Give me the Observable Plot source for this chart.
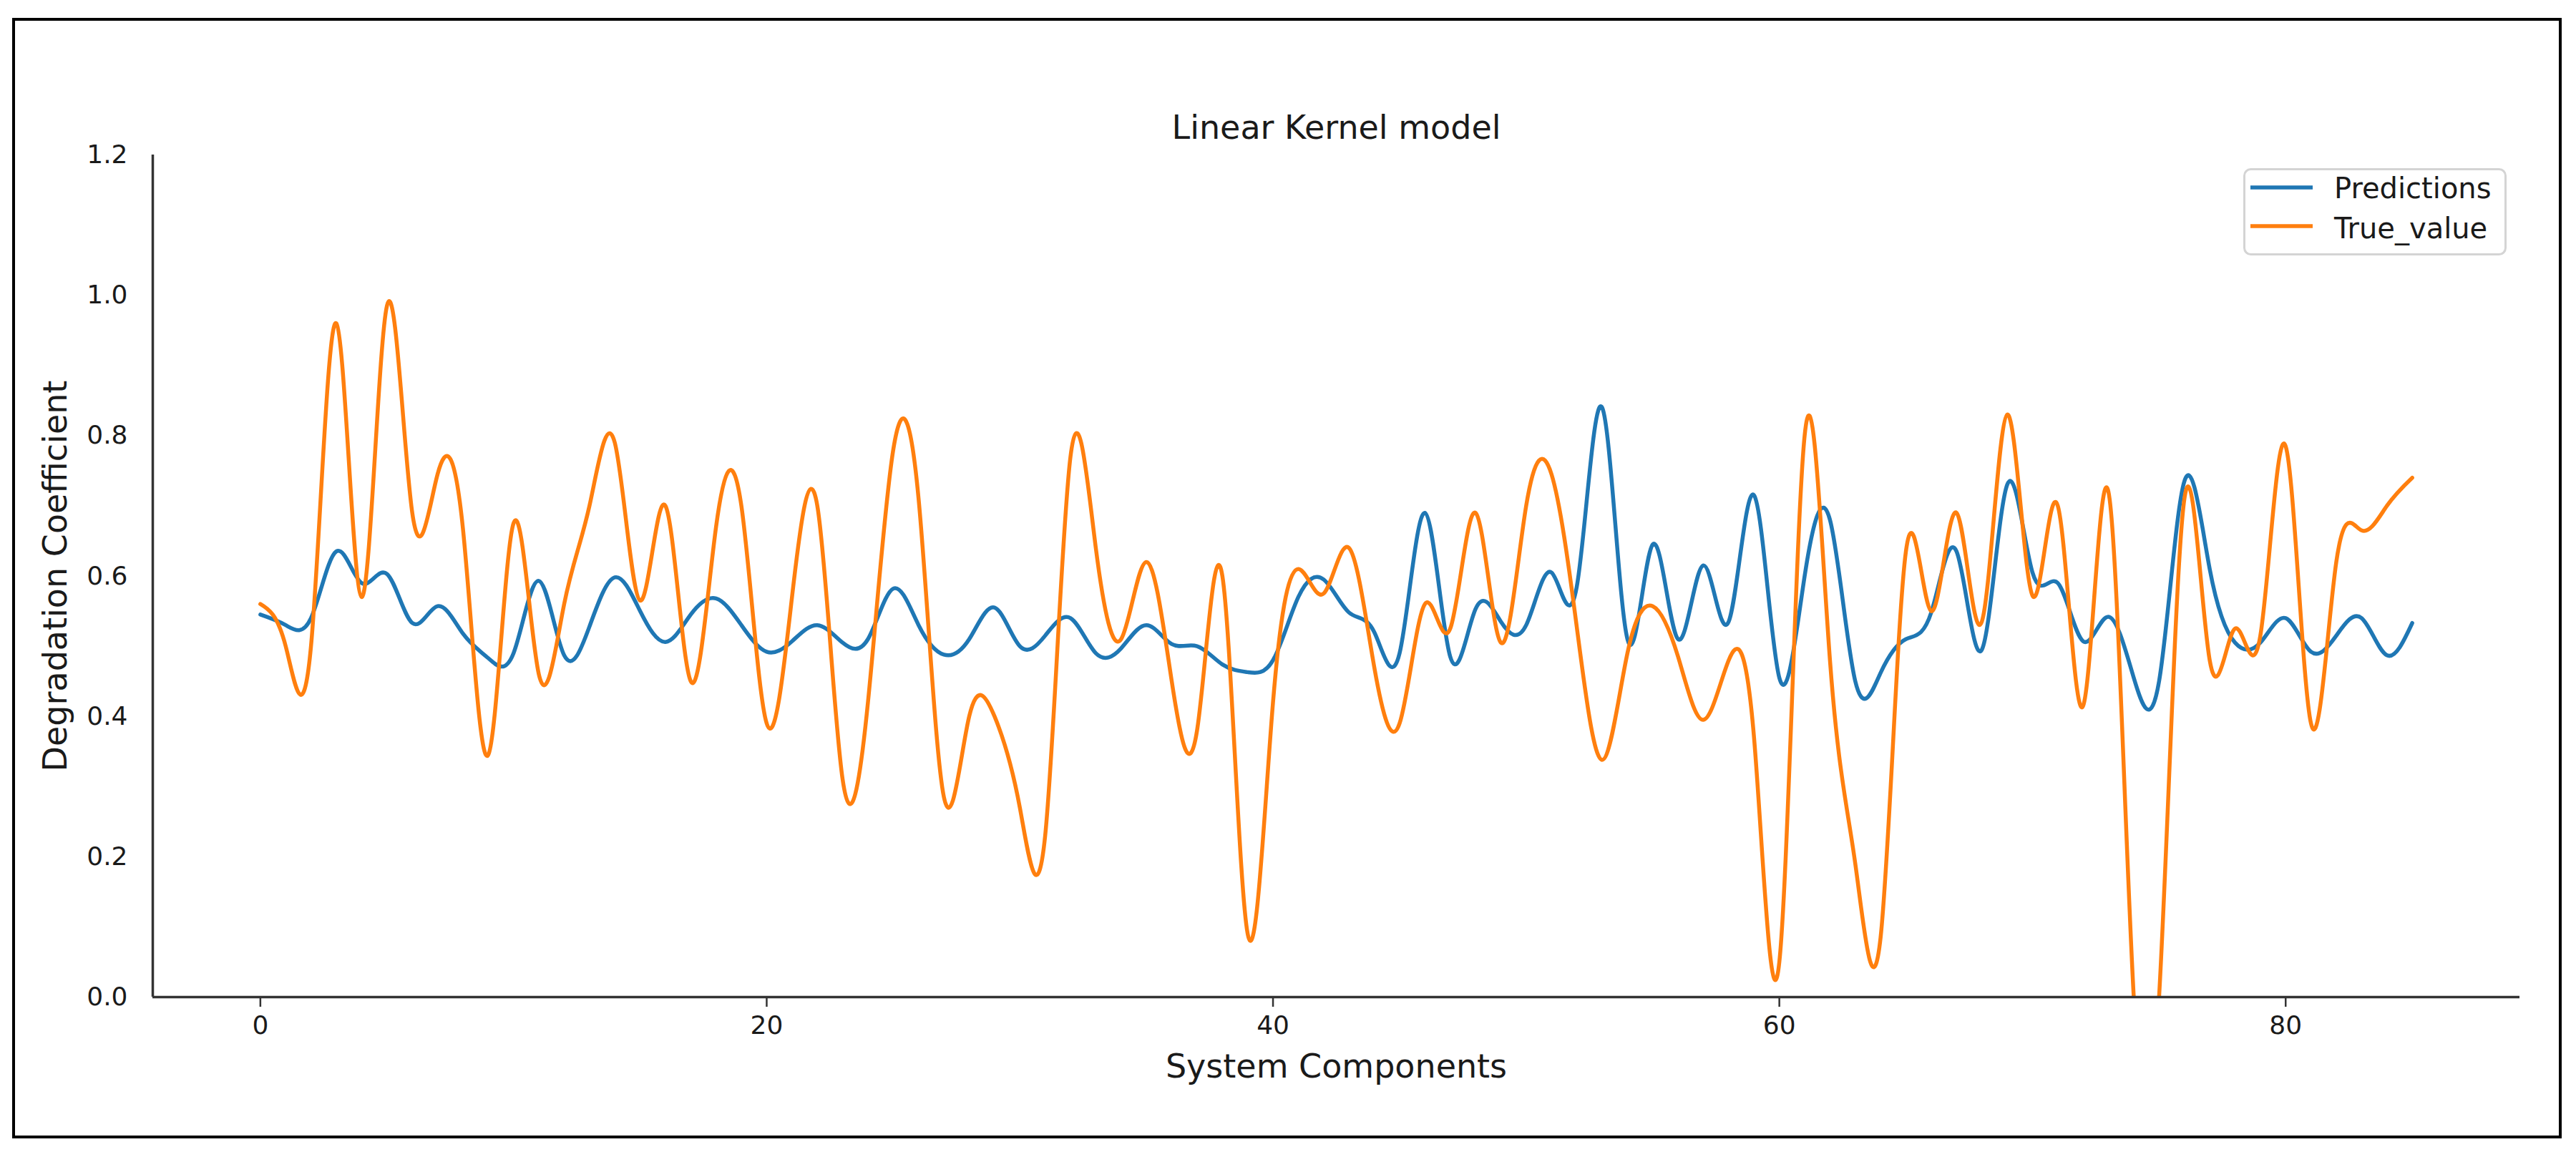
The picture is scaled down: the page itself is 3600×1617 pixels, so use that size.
<!DOCTYPE html>
<html>
<head>
<meta charset="utf-8">
<script src="https://cdn.jsdelivr.net/npm/d3@7"></script>
<script src="https://cdn.jsdelivr.net/npm/@observablehq/plot@0.6"></script>
<style>
  html, body { margin: 0; padding: 0; background: #ffffff; }
  #wrap { position: relative; width: 3600px; height: 1617px; overflow: hidden; font-family: "DejaVu Sans", sans-serif; background: #fff; }
  #chart { position: absolute; left: 0; top: 0; }
  #legend { position: absolute; left: 3135px; top: 235px; }
  #border { position: absolute; left: 17px; top: 25px; width: 3563px; height: 1566px; border: 4px solid #000; box-sizing: border-box; pointer-events: none; }
</style>
</head>
<body>
<div id="wrap">
  <div id="chart"></div>
  <svg id="legend" width="368" height="122"></svg>
  <div id="border"></div>
</div>
<script>
// ---- data ----
const title = "Linear Kernel model";
const xLabel = "System Components";
const yLabel = "Degradation Coefficient";

const components = d3.range(0, 86); // component index 0..85

const predictions = [
  0.545, 0.53, 0.54, 0.635, 0.59, 0.603, 0.533, 0.557, 0.518, 0.483,
  0.49, 0.593, 0.487, 0.528, 0.598, 0.55, 0.506, 0.545, 0.568, 0.53,
  0.492, 0.507, 0.53, 0.505, 0.51, 0.582, 0.53, 0.488, 0.51, 0.555,
  0.50, 0.515, 0.54, 0.49, 0.497, 0.53, 0.503, 0.50, 0.474, 0.463,
  0.48, 0.57, 0.595, 0.548, 0.52, 0.49, 0.69, 0.485, 0.553, 0.535,
  0.53, 0.605, 0.585, 0.84, 0.51, 0.645, 0.51, 0.615, 0.535, 0.715,
  0.455, 0.60, 0.68, 0.45, 0.462, 0.51, 0.548, 0.635, 0.495, 0.73,
  0.605, 0.59, 0.507, 0.542, 0.455, 0.45, 0.735, 0.61, 0.505, 0.505,
  0.54, 0.492, 0.515, 0.54, 0.487, 0.533
];

const trueValue = [
  0.56, 0.50, 0.50, 0.96, 0.57, 0.985, 0.69, 0.745, 0.668, 0.345,
  0.675, 0.46, 0.56, 0.70, 0.79, 0.565, 0.70, 0.45, 0.67, 0.70,
  0.39, 0.57, 0.70, 0.31, 0.42, 0.78, 0.71, 0.285, 0.40, 0.40,
  0.27, 0.23, 0.77, 0.64, 0.51, 0.62, 0.45, 0.38, 0.60, 0.09,
  0.42, 0.61, 0.575, 0.64, 0.47, 0.39, 0.56, 0.525, 0.69, 0.505,
  0.70, 0.745, 0.527, 0.338, 0.49, 0.557, 0.485, 0.395, 0.48, 0.37,
  0.05, 0.80, 0.48, 0.19, 0.085, 0.635, 0.55, 0.69, 0.535, 0.83,
  0.572, 0.70, 0.415, 0.72, 0.0, 0.0, 0.71, 0.48, 0.525, 0.515,
  0.785, 0.39, 0.62, 0.665, 0.70, 0.74
];

const seriesNames = ["Predictions", "True_value"];
const seriesColors = ["#1f77b4", "#ff7f0e"];
const xTicks = [0, 20, 40, 60, 80];
const yTicks = [0, 0.2, 0.4, 0.6, 0.8, 1.0, 1.2];
const xDomain = [-4.25, 89.25];
const yDomain = [0, 1.2];

// ---- table ----
const rows = [];
components.forEach((c, i) => rows.push({component: c, value: predictions[i], series: seriesNames[0]}));
components.forEach((c, i) => rows.push({component: c, value: trueValue[i], series: seriesNames[1]}));

const axisColor = "#333333";
const textColor = "#1a1a1a";

const chart = Plot.plot({
  width: 3600,
  height: 1617,
  marginLeft: 213,
  marginRight: 79,
  marginTop: 216,
  marginBottom: 224,
  x: {domain: xDomain},
  y: {domain: yDomain},
  color: {domain: seriesNames, range: seriesColors},
  style: {fontFamily: '"DejaVu Sans", sans-serif', background: "transparent", color: textColor},
  marks: [
    Plot.axisX({ticks: xTicks, tickSize: 14, tickPadding: 12, fontSize: 36, label: null, stroke: axisColor, strokeWidth: 2.5, fill: textColor}),
    Plot.axisY({ticks: yTicks, tickSize: 0, tickPadding: 35, fontSize: 36, tickFormat: d3.format(".1f"), label: null, fill: textColor}),
    Plot.line(rows, {x: "component", y: "value", z: "series", stroke: "series", strokeWidth: 5.5, curve: "natural", clip: true}),
    Plot.ruleY([yDomain[0]], {stroke: axisColor, strokeWidth: 3.5}),
    Plot.ruleX([xDomain[0]], {stroke: axisColor, strokeWidth: 3.5}),
    Plot.text([title], {text: d => d, frameAnchor: "top", dy: -23, textAnchor: "middle", lineAnchor: "bottom", fontSize: 46, fill: textColor}),
    Plot.text([xLabel], {text: d => d, frameAnchor: "bottom", dy: 112, textAnchor: "middle", lineAnchor: "bottom", fontSize: 46, fill: textColor}),
    Plot.text([yLabel], {text: d => d, frameAnchor: "left", dx: -121, rotate: -90, textAnchor: "middle", lineAnchor: "bottom", fontSize: 46, fill: textColor})
  ]
});
document.getElementById("chart").appendChild(chart);

// ---- legend ----
const lg = d3.select("#legend");
lg.append("rect")
  .attr("x", 1.5).attr("y", 1.5).attr("width", 365).attr("height", 119)
  .attr("rx", 9).attr("ry", 9)
  .attr("fill", "rgba(255,255,255,0.85)")
  .attr("stroke", "#d4d4d4").attr("stroke-width", 3);
seriesNames.forEach((name, i) => {
  const cy = 27 + i * 54;
  lg.append("line")
    .attr("x1", 10).attr("x2", 97).attr("y1", cy).attr("y2", cy)
    .attr("stroke", seriesColors[i]).attr("stroke-width", 5.5);
  lg.append("text")
    .attr("x", 127).attr("y", 42 + i * 56)
    .attr("font-family", '"DejaVu Sans", sans-serif')
    .attr("font-size", 40)
    .attr("fill", textColor)
    .text(name);
});
</script>
</body>
</html>
